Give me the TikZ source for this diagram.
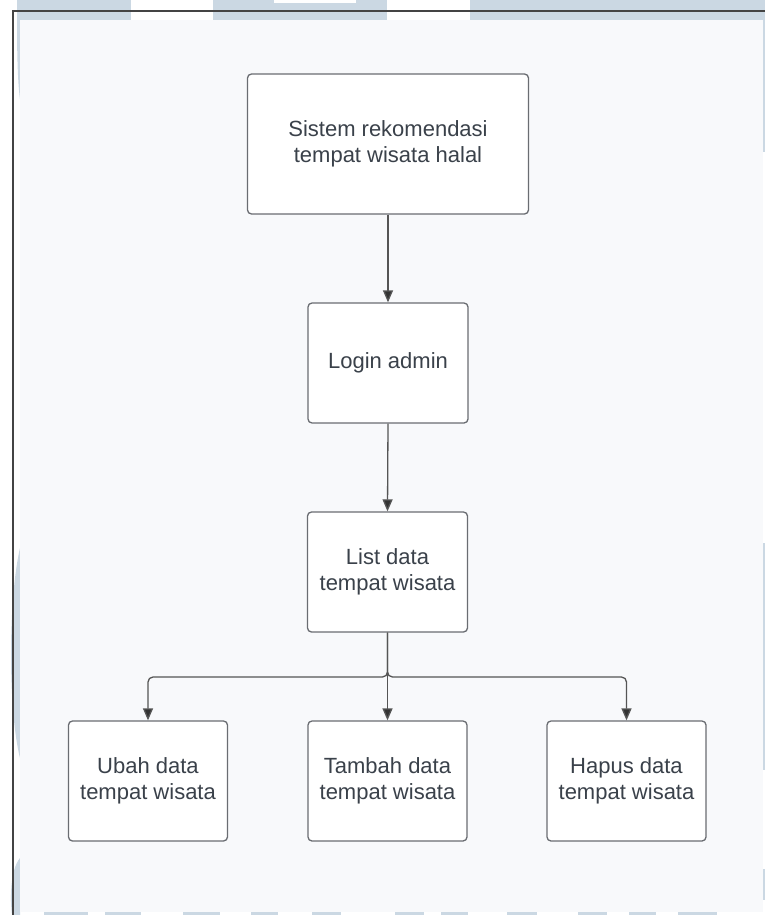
\documentclass[tikz,border=0pt]{standalone}
\usepackage{fontspec}
\setmainfont{Liberation Sans}
\usetikzlibrary{arrows.meta}
\definecolor{wm}{HTML}{CBD8E3}
\definecolor{inner}{HTML}{F8F9FB}
\definecolor{boxline}{HTML}{6A6D72}
\definecolor{txt}{HTML}{3A414A}
\definecolor{conn}{HTML}{555555}
\definecolor{frame}{HTML}{444444}
\tikzset{
  stepbox/.style={draw=boxline, line width=1.3pt, fill=white, rounded corners=4pt,
    align=center, text=txt, font=\fontsize{22}{26.4}\selectfont, inner sep=0pt},
  conn/.style={draw=conn, line width=1.3pt, rounded corners=5pt,
    -{Triangle[length=12pt,width=10pt,fill=black!80]}}
}
\begin{document}
\begin{tikzpicture}[x=1pt,y=-1pt]
\useasboundingbox (0,0) rectangle (765,915);
\fill[white] (0,0) rectangle (765,915);
% watermark pieces
\fill[wm] (17,0) rectangle (131,20);
\fill[wm] (213,0) rectangle (387,20);
\fill[white] (274,0) rectangle (356,3);
\fill[wm] (470,0) rectangle (765,20);
\fill[wm] (20,20) -- (17,20) .. controls (17,60) and (18,85) .. (20,99) -- cycle;
\fill[wm] (20,548) .. controls (8,600) and (8,710) .. (20,758) -- cycle;
\fill[wm] (20,858) .. controls (10,870) and (10,900) .. (12,915) -- (20,915) -- cycle;
\fill[wm] (763,0) rectangle (765,152);
\fill[wm] (763,543) rectangle (765,770);
\fill[wm] (763,869) rectangle (765,900);
\foreach \a/\b in {44/88,105/141,183/220,251/278,312/341,395/424,441/468,507/537,578/607,629/656,678/717}
  \fill[wm] (\a,911) rectangle (\b,915);
% inner area
\fill[inner] (20,20) rectangle (763,912);
% frame
\draw[frame, line width=1.2pt] (13,915) -- (13,11) -- (765,11);
% nodes
\node[stepbox, minimum width=281pt, minimum height=140pt] (sys) at (388,144)
  {Sistem rekomendasi\\tempat wisata halal};
\node[stepbox, minimum width=160pt, minimum height=120pt] (login) at (388,363) {Login admin};
\node[stepbox, minimum width=160pt, minimum height=120pt] (list) at (387.5,572)
  {List data\\tempat wisata};
\node[stepbox, minimum width=159pt, minimum height=120pt] (ubah) at (148,781)
  {Ubah data\\tempat wisata};
\node[stepbox, minimum width=159pt, minimum height=120pt] (tambah) at (387.5,781)
  {Tambah data\\tempat wisata};
\node[stepbox, minimum width=159pt, minimum height=120pt] (hapus) at (626.5,781)
  {Hapus data\\tempat wisata};
\coordinate (j) at (387.5,677);
% connectors
\draw[conn] (sys.south) -- (login.north);
\draw[conn] (login.south) -- (list.north);
\draw[conn] (list.south) -- (j) -| (ubah.north);
\draw[conn] (list.south) -- (tambah.north);
\draw[conn] (list.south) -- (j) -| (hapus.north);
\end{tikzpicture}
\end{document}
